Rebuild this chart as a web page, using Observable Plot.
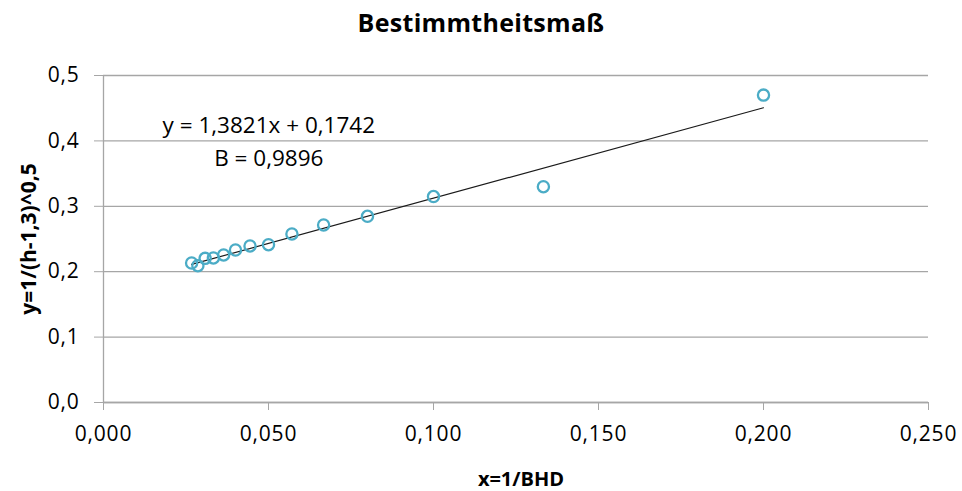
<!DOCTYPE html>
<html><head><meta charset="utf-8">
<script src="https://cdn.jsdelivr.net/npm/d3@7"></script>
<script src="https://cdn.jsdelivr.net/npm/@observablehq/plot@0.6"></script>
<style>
body{margin:0;background:#fff;font-family:"Open Sans",sans-serif;}
#title{height:44px;line-height:45px;text-align:center;font-weight:bold;font-size:25px;color:#000;letter-spacing:0.3px;}
g[aria-label="equation"] text{letter-spacing:0.7px;}
g[aria-label="x-axis tick label"] text, g[aria-label="y-axis tick label"] text{letter-spacing:0.8px;}
g[aria-label="axis title"] text{letter-spacing:0.8px;}
</style></head><body>
<div id="title">Bestimmtheitsmaß</div>
<div id="chart"></div>
<script>
// x = 1/BHD, y = 1/(h-1,3)^0,5
const xValues = [0.0267, 0.0286, 0.0308, 0.0333, 0.0364, 0.0400, 0.0444, 0.0500, 0.0571, 0.0667, 0.0800, 0.1000, 0.1333, 0.2000];
const yValues = [0.2133, 0.2092, 0.2204, 0.2210, 0.2256, 0.2332, 0.2394, 0.2413, 0.2577, 0.2715, 0.2847, 0.3149, 0.3300, 0.4700];
const xTicks = [0, 0.05, 0.10, 0.15, 0.20, 0.25];
const yTicks = [0, 0.1, 0.2, 0.3, 0.4, 0.5];
const slope = 1.3821, intercept = 0.1742;
const eqLabels = ["y = 1,3821x + 0,1742", "B = 0,9896"];
const eqX = [0.0501, 0.0501];
const eqY = [0.4236, 0.3732];
const xLabel = "x=1/BHD";
const yLabel = "y=1/(h-1,3)^0,5";

const points = xValues.map((x, i) => ({x, y: yValues[i]}));
const xMin = d3.min(xValues), xMax = d3.max(xValues);
const trend = [xMin, xMax].map(x => ({x, y: slope * x + intercept}));
const eq = eqLabels.map((t, i) => ({t, x: eqX[i], y: eqY[i]}));
const gray = "#a6a6a6";

const chart = Plot.plot({
  width: 962,
  height: 447,
  marginTop: 31,
  marginBottom: 89,
  marginLeft: 103,
  marginRight: 34,
  style: {fontFamily: "'Open Sans', sans-serif", fontSize: "21px", color: "#000", background: "#fff"},
  x: {domain: [0, 0.25], axis: null},
  y: {domain: [0, 0.5], axis: null},
  marks: [
    Plot.gridY(yTicks, {stroke: gray, strokeOpacity: 1, strokeWidth: 1.3}),
    Plot.ruleY([0], {stroke: gray, strokeWidth: 1.3}),
    Plot.ruleX([0], {stroke: gray, strokeWidth: 1.3}),
    Plot.axisX({ticks: xTicks, label: null, tickSize: 8, tickPadding: 16, stroke: gray, fill: "#000",
      tickFormat: d => d.toFixed(3).replace(".", ",")}),
    Plot.axisY({ticks: yTicks, label: null, tickSize: 9, tickPadding: 15, stroke: gray, fill: "#000",
      tickFormat: d => d.toFixed(1).replace(".", ",")}),
    Plot.line(trend, {x: "x", y: "y", stroke: "#1a1a1a", strokeWidth: 1.2}),
    Plot.dot(points, {x: "x", y: "y", r: 5.6, stroke: "#4bacc6", strokeWidth: 2.3, fill: "none"}),
    Plot.text(eq, {x: "x", y: "y", text: "t", fontSize: 22.5, fill: "#000", textAnchor: "middle", ariaLabel: "equation"}),
    Plot.text([xLabel], {frameAnchor: "bottom", dx: 5, dy: 83, fontWeight: "bold", fontSize: 20, fill: "#000", ariaLabel: "axis title"}),
    Plot.text([yLabel], {frameAnchor: "left", textAnchor: "middle", dx: -74, rotate: -90, fontWeight: "bold", fontSize: 21, fill: "#000", ariaLabel: "axis title"})
  ]
});
document.getElementById("chart").appendChild(chart);
</script>
</body></html>
